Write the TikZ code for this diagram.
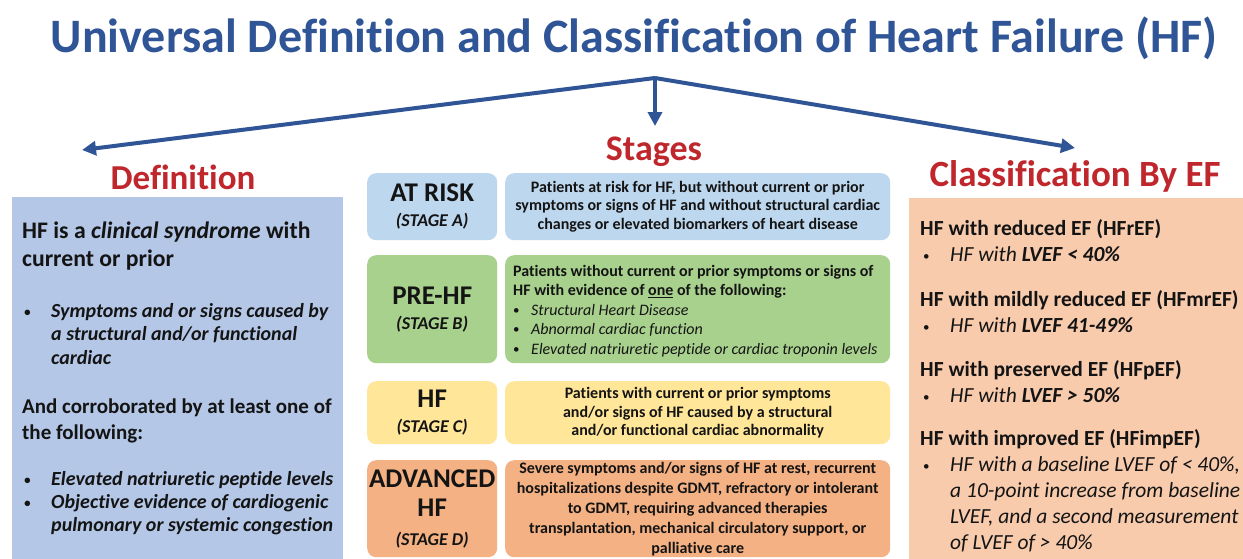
\documentclass[tikz,border=0pt]{standalone}
\usepackage{fontspec}
\setmainfont{Carlito}[Ligatures=NoCommon, RawFeature={-liga;-calt;-clig}]
\usetikzlibrary{arrows.meta}
\definecolor{titleblue}{HTML}{2F5597}
\definecolor{headred}{HTML}{C0272D}
\definecolor{defblue}{HTML}{B4C7E7}
\definecolor{riskblue}{HTML}{BDD7EE}
\definecolor{pregreen}{HTML}{A9D18E}
\definecolor{hfyellow}{HTML}{FFE699}
\definecolor{advorange}{HTML}{F4B183}
\definecolor{clspeach}{HTML}{F8CBAD}
\definecolor{txt}{HTML}{141414}
\newcommand{\myfs}[2]{\fontsize{#1}{#2}\selectfont}
\newcommand{\smbul}{{\fontsize{13}{13}\selectfont\raisebox{1pt}{\textbullet}}}
\newcommand{\mybul}{\makebox[18pt][l]{\smbul}}
\newcommand{\bigbul}{\makebox[27pt][l]{\smbul}}
\newcommand{\stg}[1]{{\bfseries\itshape\myfs{18}{20}#1}}
\begin{document}
\begin{tikzpicture}[x=1pt,y=-1pt,
  conn/.style={draw=titleblue, line width=4pt, -{Triangle[length=14pt,width=14pt]}},
  heading/.style={text=headred, inner sep=0pt},
  panel/.style={inner sep=0pt, anchor=north west},
  stagebox/.style={rounded corners=9pt, inner sep=0pt, anchor=north west, align=center, text=txt},
  para/.style={inner sep=0pt, anchor=base west, align=left, text=txt},
  stagelbl/.style={font=\bfseries\myfs{27}{25}},
  desc/.style={font=\bfseries\myfs{16}{18.5}},
]
\useasboundingbox[fill=white] (0,0) rectangle (1243,558);

% title
\node[text=titleblue, font=\bfseries\myfs{48}{52}, inner sep=0pt, anchor=base] (title) at (634,52) {Universal Definition and Classification of Heart Failure (HF)};

% arrows
\coordinate (apex) at (655,78);
\coordinate (lend) at (82,150);
\coordinate (mend) at (655,126);
\coordinate (rend) at (1075,148);
\draw[conn] (apex) -- (lend);
\draw[conn] (apex) -- (mend);
\draw[conn] (apex) -- (rend);

% headings
\node[heading, font=\bfseries\myfs{35}{40}, anchor=base] (hdef) at (183,189) {Definition};
\node[heading, font=\bfseries\myfs{36}{40}, anchor=base] (hstg) at (654,160) {Stages};
\node[heading, font=\bfseries\myfs{37}{40}, anchor=base] (hcls) at (1075,186) {Classification By EF};

% left panel
\node[panel, fill=defblue, minimum width=331pt, minimum height=365pt] (defbox) at (12,197) {};
\node[para, font=\bfseries\myfs{23.7}{28}] (d1) at (22,266) {HF is a \textit{clinical syndrome} with\\current or prior};
\node[para, font=\bfseries\itshape\myfs{20}{23.5}] (d2) at (24,364) {\bigbul Symptoms and or signs caused by\\\hspace*{27pt}a structural and/or functional\\\hspace*{27pt}cardiac};
\node[para, font=\bfseries\myfs{21}{26}] (d3) at (22,439) {And corroborated by at least one of\\the following:};
\node[para, font=\bfseries\itshape\myfs{20}{23}] (d4) at (24,531) {\bigbul Elevated natriuretic peptide levels\\\bigbul Objective evidence of cardiogenic\\\hspace*{27pt}pulmonary or systemic congestion};

% stages
\node[stagebox, stagelbl, fill=riskblue, minimum width=130pt, minimum height=67pt] (sA) at (367,173) {AT RISK\\\stg{(STAGE A)}};
\node[stagebox, fill=riskblue, minimum width=385pt, minimum height=67pt, desc] (tA) at (505,173) {Patients at risk for HF, but without current or prior\\symptoms or signs of HF and without structural cardiac\\changes or elevated biomarkers of heart disease};

\node[stagebox, stagelbl, fill=pregreen, minimum width=130pt, minimum height=108pt] (sB) at (367,255) {PRE-HF\\\stg{(STAGE B)}};
\node[stagebox, fill=pregreen, minimum width=385pt, minimum height=108pt] (tB) at (505,255) {};
\node[para, font=\mdseries\myfs{16}{19.5}] (tBt) at (513,354) {\textbf{Patients without current or prior symptoms or signs of}\\\textbf{HF with evidence of \underline{one} of the following:}\\\mybul\textit{Structural Heart Disease}\\\mybul\textit{Abnormal cardiac function}\\\mybul\textit{Elevated natriuretic peptide or cardiac troponin levels}};

\node[stagebox, stagelbl, fill=hfyellow, minimum width=130pt, minimum height=63pt] (sC) at (367,381) {HF\\\stg{(STAGE C)}};
\node[stagebox, fill=hfyellow, minimum width=385pt, minimum height=63pt, desc] (tC) at (505,381) {Patients with current or prior symptoms\\and/or signs of HF caused by a structural\\and/or functional cardiac abnormality};

\node[stagebox, font=\bfseries\myfs{27}{29}, fill=advorange, minimum width=130pt, minimum height=97pt] (sD) at (367,460) {ADVANCED\\HF\\\stg{(STAGE D)}};
\node[stagebox, fill=advorange, minimum width=385pt, minimum height=97pt, font=\bfseries\myfs{16}{20}] (tD) at (505,460) {Severe symptoms and/or signs of HF at rest, recurrent\\hospitalizations despite GDMT, refractory or intolerant\\to GDMT, requiring advanced therapies\\transplantation, mechanical circulatory support, or\\palliative care};

% right panel
\node[panel, fill=clspeach, minimum width=340pt, minimum height=365pt] (clsbox) at (909,198) {};
\node[para, font=\mdseries\myfs{21.5}{26}] (c1) at (920,261) {\textbf{HF with reduced EF (HFrEF)}\\\hspace*{3pt}\bigbul\textit{HF with \textbf{LVEF < 40\%}}};
\node[para, font=\mdseries\myfs{21.5}{26}] (c2) at (920,332) {\textbf{HF with mildly reduced EF (HFmrEF)}\\\hspace*{3pt}\bigbul\textit{HF with \textbf{LVEF 41-49\%}}};
\node[para, font=\mdseries\myfs{21.5}{26}] (c3) at (920,402) {\textbf{HF with preserved EF (HFpEF)}\\\hspace*{3pt}\bigbul\textit{HF with \textbf{LVEF > 50\%}}};
\node[para, font=\mdseries\myfs{21.5}{25.8}] (c4) at (920,549) {\textbf{HF with improved EF (HFimpEF)}\\\hspace*{3pt}\bigbul\textit{HF with a baseline LVEF of < 40\%,}\\\hspace*{30pt}\textit{a 10-point increase from baseline}\\\hspace*{30pt}\textit{LVEF, and a second measurement}\\\hspace*{30pt}\textit{of LVEF of > 40\%}};
\end{tikzpicture}
\end{document}
